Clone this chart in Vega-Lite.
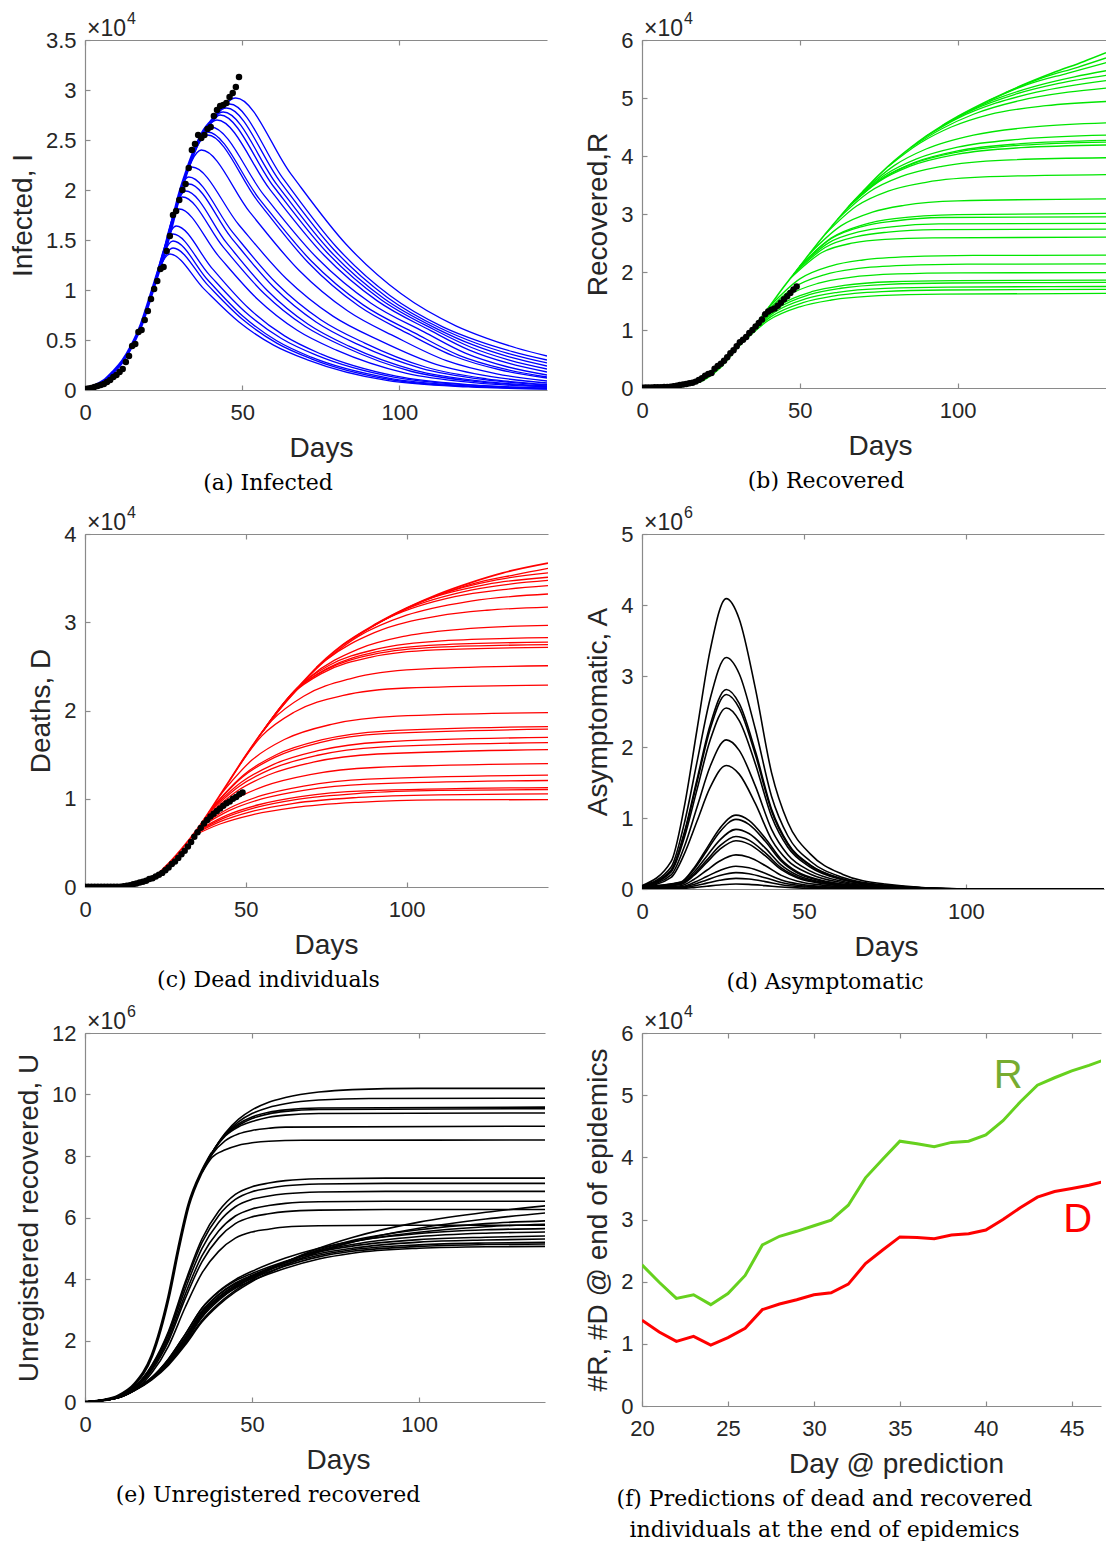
{
"$schema": "https://vega.github.io/schema/vega-lite/v6.json",
"background": "white",
"padding": {"left": 9, "top": 11, "right": 0, "bottom": 0},
"columns": 2,
"spacing": {"row": 144, "column": 94},
"bounds": "flush",
"config": {
 "view": {"stroke": null},
 "font": "Liberation Sans",
 "axis": {"grid": false, "domainColor": "#8a8a8a", "domainWidth": 1.2, "tickColor": "#8a8a8a", "tickWidth": 1.2, "tickSize": -5, "labelFont": "Liberation Sans", "labelFontSize": 22, "labelColor": "#262626", "titleFont": "Liberation Sans", "titleFontSize": 28, "titleFontWeight": "normal", "titleColor": "#262626"},
 "axisX": {"labelPadding": 17, "labelFlush": false},
 "axisY": {"labelPadding": 14, "titlePadding": 8},
 "title": {"font": "DejaVu Serif", "fontSize": 22, "fontWeight": "normal", "color": "#000000", "lineHeight": 31}
},
"datasets": {
 "one": [{}],
 "aTrunk": [{"x":0,"y":0.01},{"x":3,"y":0.04},{"x":6,"y":0.09},{"x":9,"y":0.18},{"x":12,"y":0.29},{"x":15,"y":0.45},{"x":18,"y":0.66},{"x":20,"y":0.85},{"x":22,"y":1.05},{"x":24,"y":1.25},{"x":26,"y":1.46},{"x":28,"y":1.7},{"x":30,"y":1.95},{"x":32,"y":2.15},{"x":34,"y":2.33},{"x":36,"y":2.48},{"x":38,"y":2.6},{"x":40,"y":2.68},{"x":42,"y":2.75}],
 "aObs": [{"x":0,"y":0.01},{"x":1,"y":0.015},{"x":2,"y":0.02},{"x":3,"y":0.03},{"x":4,"y":0.04},{"x":5,"y":0.05},{"x":6,"y":0.06},{"x":7,"y":0.08},{"x":8,"y":0.1},{"x":9,"y":0.13},{"x":10,"y":0.15},{"x":11,"y":0.18},{"x":12,"y":0.21},{"x":13,"y":0.28},{"x":14,"y":0.34},{"x":15,"y":0.44},{"x":16,"y":0.46},{"x":17,"y":0.58},{"x":18,"y":0.6},{"x":19,"y":0.7},{"x":20,"y":0.79},{"x":21,"y":0.91},{"x":22,"y":1.01},{"x":23,"y":1.09},{"x":24,"y":1.21},{"x":25,"y":1.23},{"x":26,"y":1.39},{"x":27,"y":1.54},{"x":28,"y":1.75},{"x":29,"y":1.79},{"x":30,"y":1.9},{"x":31,"y":2.0},{"x":32,"y":2.06},{"x":33,"y":2.22},{"x":34,"y":2.4},{"x":35,"y":2.46},{"x":36,"y":2.55},{"x":37,"y":2.52},{"x":38,"y":2.55},{"x":39,"y":2.61},{"x":40,"y":2.63},{"x":41,"y":2.74},{"x":42,"y":2.8},{"x":43,"y":2.84},{"x":44,"y":2.85},{"x":45,"y":2.87},{"x":46,"y":2.93},{"x":47,"y":2.97},{"x":48,"y":3.03},{"x":49,"y":3.13}],
 "aLines": [
{"c":0,"x":21,"y":0.95},{"c":0,"x":27,"y":1.36},{"c":0,"x":38,"y":1.006},{"c":0,"x":49,"y":0.68},{"c":0,"x":60,"y":0.449},{"c":0,"x":71,"y":0.299},{"c":0,"x":96,"y":0.096},{"c":0,"x":122,"y":0.031},{"c":0,"x":147,"y":0.01},
{"c":1,"x":22,"y":1.05},{"c":1,"x":28,"y":1.42},{"c":1,"x":39,"y":1.051},{"c":1,"x":50,"y":0.71},{"c":1,"x":61,"y":0.469},{"c":1,"x":72,"y":0.312},{"c":1,"x":97,"y":0.105},{"c":1,"x":122,"y":0.036},{"c":1,"x":147,"y":0.012},
{"c":2,"x":22,"y":1.05},{"c":2,"x":28,"y":1.49},{"c":2,"x":39,"y":1.103},{"c":2,"x":50,"y":0.745},{"c":2,"x":61,"y":0.492},{"c":2,"x":72,"y":0.328},{"c":2,"x":97,"y":0.117},{"c":2,"x":122,"y":0.042},{"c":2,"x":147,"y":0.015},
{"c":3,"x":22,"y":1.05},{"c":3,"x":28,"y":1.56},{"c":3,"x":39.5,"y":1.154},{"c":3,"x":51,"y":0.78},{"c":3,"x":62.5,"y":0.515},{"c":3,"x":74,"y":0.343},{"c":3,"x":98.3,"y":0.128},{"c":3,"x":122.7,"y":0.048},{"c":3,"x":147,"y":0.018},
{"c":4,"x":23,"y":1.15},{"c":4,"x":29,"y":1.64},{"c":4,"x":40.5,"y":1.214},{"c":4,"x":52,"y":0.82},{"c":4,"x":63.5,"y":0.541},{"c":4,"x":75,"y":0.361},{"c":4,"x":99,"y":0.138},{"c":4,"x":123,"y":0.052},{"c":4,"x":147,"y":0.02},
{"c":5,"x":24,"y":1.25},{"c":5,"x":30,"y":1.81},{"c":5,"x":42.5,"y":1.339},{"c":5,"x":55,"y":0.905},{"c":5,"x":67.5,"y":0.597},{"c":5,"x":80,"y":0.398},{"c":5,"x":102,"y":0.168},{"c":5,"x":124.5,"y":0.071},{"c":5,"x":147,"y":0.03},
{"c":6,"x":25,"y":1.35},{"c":6,"x":31,"y":1.93},{"c":6,"x":44,"y":1.428},{"c":6,"x":57,"y":0.965},{"c":6,"x":70,"y":0.637},{"c":6,"x":83,"y":0.425},{"c":6,"x":104,"y":0.185},{"c":6,"x":125.5,"y":0.081},{"c":6,"x":147,"y":0.035},
{"c":7,"x":26,"y":1.46},{"c":7,"x":32,"y":1.99},{"c":7,"x":45,"y":1.473},{"c":7,"x":58,"y":0.995},{"c":7,"x":71,"y":0.657},{"c":7,"x":84,"y":0.438},{"c":7,"x":105,"y":0.197},{"c":7,"x":126,"y":0.089},{"c":7,"x":147,"y":0.04},
{"c":8,"x":27,"y":1.58},{"c":8,"x":33,"y":2.06},{"c":8,"x":46.5,"y":1.524},{"c":8,"x":60,"y":1.03},{"c":8,"x":73.5,"y":0.68},{"c":8,"x":87,"y":0.453},{"c":8,"x":107,"y":0.217},{"c":8,"x":127,"y":0.104},{"c":8,"x":147,"y":0.05},
{"c":9,"x":27,"y":1.58},{"c":9,"x":33,"y":2.13},{"c":9,"x":47,"y":1.576},{"c":9,"x":61,"y":1.065},{"c":9,"x":75,"y":0.703},{"c":9,"x":89,"y":0.469},{"c":9,"x":108.3,"y":0.23},{"c":9,"x":127.7,"y":0.112},{"c":9,"x":147,"y":0.055},
{"c":10,"x":28,"y":1.7},{"c":10,"x":34,"y":2.23},{"c":10,"x":49,"y":1.65},{"c":10,"x":64,"y":1.115},{"c":10,"x":79,"y":0.736},{"c":10,"x":94,"y":0.491},{"c":10,"x":111.7,"y":0.256},{"c":10,"x":129.3,"y":0.134},{"c":10,"x":147,"y":0.07},
{"c":11,"x":31,"y":2.05},{"c":11,"x":37,"y":2.4},{"c":11,"x":52.5,"y":1.776},{"c":11,"x":68,"y":1.2},{"c":11,"x":83.5,"y":0.792},{"c":11,"x":99,"y":0.528},{"c":11,"x":115,"y":0.293},{"c":11,"x":131,"y":0.162},{"c":11,"x":147,"y":0.09},
{"c":12,"x":33,"y":2.24},{"c":12,"x":39,"y":2.55},{"c":12,"x":55,"y":1.887},{"c":12,"x":71,"y":1.275},{"c":12,"x":87,"y":0.842},{"c":12,"x":103,"y":0.561},{"c":12,"x":117.7,"y":0.335},{"c":12,"x":132.3,"y":0.2},{"c":12,"x":147,"y":0.12},
{"c":13,"x":33,"y":2.24},{"c":13,"x":39,"y":2.58},{"c":13,"x":55.5,"y":1.909},{"c":13,"x":72,"y":1.29},{"c":13,"x":88.5,"y":0.851},{"c":13,"x":105,"y":0.568},{"c":13,"x":119,"y":0.347},{"c":13,"x":133,"y":0.213},{"c":13,"x":147,"y":0.13},
{"c":14,"x":34,"y":2.33},{"c":14,"x":40,"y":2.63},{"c":14,"x":57,"y":1.946},{"c":14,"x":74,"y":1.315},{"c":14,"x":91,"y":0.868},{"c":14,"x":108,"y":0.579},{"c":14,"x":121,"y":0.369},{"c":14,"x":134,"y":0.235},{"c":14,"x":147,"y":0.15},
{"c":15,"x":36,"y":2.48},{"c":15,"x":42,"y":2.7},{"c":15,"x":59,"y":1.998},{"c":15,"x":76,"y":1.35},{"c":15,"x":93,"y":0.891},{"c":15,"x":110,"y":0.594},{"c":15,"x":122.3,"y":0.399},{"c":15,"x":134.7,"y":0.268},{"c":15,"x":147,"y":0.18},
{"c":16,"x":37,"y":2.54},{"c":16,"x":43,"y":2.75},{"c":16,"x":60,"y":2.035},{"c":16,"x":77,"y":1.375},{"c":16,"x":94,"y":0.908},{"c":16,"x":111,"y":0.605},{"c":16,"x":123,"y":0.425},{"c":16,"x":135,"y":0.299},{"c":16,"x":147,"y":0.21},
{"c":17,"x":38,"y":2.6},{"c":17,"x":44,"y":2.78},{"c":17,"x":61,"y":2.057},{"c":17,"x":78,"y":1.39},{"c":17,"x":95,"y":0.917},{"c":17,"x":112,"y":0.612},{"c":17,"x":123.7,"y":0.448},{"c":17,"x":135.3,"y":0.328},{"c":17,"x":147,"y":0.24},
{"c":18,"x":39,"y":2.64},{"c":18,"x":45,"y":2.82},{"c":18,"x":62,"y":2.087},{"c":18,"x":79,"y":1.41},{"c":18,"x":96,"y":0.931},{"c":18,"x":113,"y":0.62},{"c":18,"x":124.3,"y":0.47},{"c":18,"x":135.7,"y":0.356},{"c":18,"x":147,"y":0.27},
{"c":19,"x":40,"y":2.68},{"c":19,"x":46,"y":2.86},{"c":19,"x":63,"y":2.116},{"c":19,"x":80,"y":1.43},{"c":19,"x":97,"y":0.944},{"c":19,"x":114,"y":0.629},{"c":19,"x":125,"y":0.491},{"c":19,"x":136,"y":0.384},{"c":19,"x":147,"y":0.3},
{"c":20,"x":42,"y":2.75},{"c":20,"x":48,"y":2.92},{"c":20,"x":65.5,"y":2.161},{"c":20,"x":83,"y":1.46},{"c":20,"x":100.5,"y":0.964},{"c":20,"x":118,"y":0.642},{"c":20,"x":127.7,"y":0.519},{"c":20,"x":137.3,"y":0.42},{"c":20,"x":147,"y":0.34}],
 "bTrunk": [{"x":0,"y":0},{"x":5,"y":0.002},{"x":10,"y":0.015},{"x":15,"y":0.05},{"x":20,"y":0.15},{"x":25,"y":0.36},{"x":30,"y":0.68},{"x":35,"y":1.02},{"x":40,"y":1.38},{"x":45,"y":1.75},{"x":50,"y":2.1},{"x":55,"y":2.45},{"x":60,"y":2.78},{"x":65,"y":3.1},{"x":70,"y":3.39},{"x":75,"y":3.67},{"x":80,"y":3.92},{"x":85,"y":4.14},{"x":90,"y":4.34},{"x":95,"y":4.52},{"x":100,"y":4.68},{"x":110,"y":4.96},{"x":120,"y":5.21},{"x":130,"y":5.43},{"x":140,"y":5.63},{"x":147,"y":5.78}],
 "bObs": [{"x":0,"y":0.005},{"x":1,"y":0.007},{"x":2,"y":0.008},{"x":3,"y":0.01},{"x":4,"y":0.012},{"x":5,"y":0.013},{"x":6,"y":0.015},{"x":7,"y":0.016},{"x":8,"y":0.018},{"x":9,"y":0.022},{"x":10,"y":0.03},{"x":11,"y":0.04},{"x":12,"y":0.05},{"x":13,"y":0.06},{"x":14,"y":0.07},{"x":15,"y":0.08},{"x":16,"y":0.09},{"x":17,"y":0.11},{"x":18,"y":0.14},{"x":19,"y":0.17},{"x":20,"y":0.21},{"x":21,"y":0.24},{"x":22,"y":0.26},{"x":23,"y":0.33},{"x":24,"y":0.38},{"x":25,"y":0.42},{"x":26,"y":0.47},{"x":27,"y":0.53},{"x":28,"y":0.6},{"x":29,"y":0.65},{"x":30,"y":0.72},{"x":31,"y":0.79},{"x":32,"y":0.83},{"x":33,"y":0.88},{"x":34,"y":0.95},{"x":35,"y":1.0},{"x":36,"y":1.06},{"x":37,"y":1.12},{"x":38,"y":1.18},{"x":39,"y":1.27},{"x":40,"y":1.32},{"x":41,"y":1.35},{"x":42,"y":1.37},{"x":43,"y":1.42},{"x":44,"y":1.47},{"x":45,"y":1.53},{"x":46,"y":1.58},{"x":47,"y":1.64},{"x":48,"y":1.7},{"x":49,"y":1.75}],
 "bLines": [
{"c":1,"x":30,"y":0.68},{"c":1,"x":40,"y":1.163},{"c":1,"x":50,"y":1.4},{"c":1,"x":60,"y":1.517},{"c":1,"x":75,"y":1.591},{"c":1,"x":95,"y":1.62},{"c":1,"x":147,"y":1.63},
{"c":2,"x":31,"y":0.75},{"c":2,"x":41,"y":1.235},{"c":2,"x":51,"y":1.472},{"c":2,"x":61,"y":1.589},{"c":2,"x":76,"y":1.662},{"c":2,"x":96,"y":1.69},{"c":2,"x":147,"y":1.7},
{"c":3,"x":32,"y":0.82},{"c":3,"x":42,"y":1.306},{"c":3,"x":52,"y":1.539},{"c":3,"x":62,"y":1.65},{"c":3,"x":77,"y":1.717},{"c":3,"x":97,"y":1.74},{"c":3,"x":147,"y":1.75},
{"c":4,"x":33,"y":0.88},{"c":4,"x":43,"y":1.374},{"c":4,"x":53,"y":1.608},{"c":4,"x":63,"y":1.72},{"c":4,"x":78,"y":1.787},{"c":4,"x":98,"y":1.81},{"c":4,"x":147,"y":1.82},
{"c":5,"x":34,"y":0.95},{"c":5,"x":44,"y":1.439},{"c":5,"x":54,"y":1.664},{"c":5,"x":64,"y":1.769},{"c":5,"x":79,"y":1.832},{"c":5,"x":99,"y":1.85},{"c":5,"x":147,"y":1.86},
{"c":6,"x":36,"y":1.09},{"c":6,"x":46,"y":1.586},{"c":6,"x":56,"y":1.808},{"c":6,"x":66,"y":1.908},{"c":6,"x":81,"y":1.966},{"c":6,"x":101,"y":1.985},{"c":6,"x":147,"y":1.99},
{"c":7,"x":38,"y":1.23},{"c":7,"x":48,"y":1.731},{"c":7,"x":58,"y":1.956},{"c":7,"x":68,"y":2.057},{"c":7,"x":83,"y":2.115},{"c":7,"x":103,"y":2.135},{"c":7,"x":147,"y":2.14},
{"c":8,"x":40,"y":1.38},{"c":8,"x":50,"y":1.881},{"c":8,"x":60,"y":2.106},{"c":8,"x":70,"y":2.207},{"c":8,"x":85,"y":2.265},{"c":8,"x":105,"y":2.285},{"c":8,"x":147,"y":2.29},
{"c":9,"x":47,"y":1.89},{"c":9,"x":57,"y":2.336},{"c":9,"x":67,"y":2.502},{"c":9,"x":77,"y":2.564},{"c":9,"x":92,"y":2.59},{"c":9,"x":147,"y":2.6},
{"c":10,"x":48,"y":1.96},{"c":10,"x":58,"y":2.423},{"c":10,"x":68,"y":2.611},{"c":10,"x":78,"y":2.688},{"c":10,"x":93,"y":2.73},{"c":10,"x":147,"y":2.74},
{"c":11,"x":49,"y":2.03},{"c":11,"x":59,"y":2.498},{"c":11,"x":69,"y":2.695},{"c":11,"x":79,"y":2.779},{"c":11,"x":94,"y":2.83},{"c":11,"x":147,"y":2.84},
{"c":12,"x":50,"y":2.1},{"c":12,"x":60,"y":2.578},{"c":12,"x":70,"y":2.788},{"c":12,"x":80,"y":2.879},{"c":12,"x":95,"y":2.94},{"c":12,"x":147,"y":2.95},
{"c":13,"x":50,"y":2.1},{"c":13,"x":60,"y":2.589},{"c":13,"x":70,"y":2.814},{"c":13,"x":80,"y":2.919},{"c":13,"x":100,"y":2.99},{"c":13,"x":147,"y":3.01},
{"c":14,"x":53,"y":2.31},{"c":14,"x":63,"y":2.795},{"c":14,"x":73,"y":3.032},{"c":14,"x":83,"y":3.149},{"c":14,"x":100,"y":3.227},{"c":14,"x":147,"y":3.26},
{"c":15,"x":58,"y":2.65},{"c":15,"x":68,"y":3.137},{"c":15,"x":78,"y":3.395},{"c":15,"x":90,"y":3.547},{"c":15,"x":110,"y":3.643},{"c":15,"x":147,"y":3.68},
{"c":16,"x":62,"y":2.91},{"c":16,"x":72,"y":3.38},{"c":16,"x":82,"y":3.643},{"c":16,"x":95,"y":3.822},{"c":16,"x":115,"y":3.93},{"c":16,"x":147,"y":3.97},
{"c":17,"x":65,"y":3.1},{"c":17,"x":75,"y":3.558},{"c":17,"x":85,"y":3.825},{"c":17,"x":100,"y":4.032},{"c":17,"x":120,"y":4.143},{"c":17,"x":147,"y":4.19},
{"c":18,"x":65.5,"y":3.13},{"c":18,"x":75.5,"y":3.588},{"c":18,"x":85.5,"y":3.859},{"c":18,"x":100,"y":4.067},{"c":18,"x":120,"y":4.186},{"c":18,"x":147,"y":4.24},
{"c":19,"x":66,"y":3.16},{"c":19,"x":76,"y":3.612},{"c":19,"x":86,"y":3.882},{"c":19,"x":100,"y":4.087},{"c":19,"x":120,"y":4.212},{"c":19,"x":147,"y":4.27},
{"c":20,"x":67,"y":3.22},{"c":20,"x":77,"y":3.677},{"c":20,"x":87,"y":3.951},{"c":20,"x":100,"y":4.153},{"c":20,"x":120,"y":4.291},{"c":20,"x":147,"y":4.36},
{"c":21,"x":70,"y":3.39},{"c":21,"x":80,"y":3.839},{"c":21,"x":90,"y":4.121},{"c":21,"x":105,"y":4.36},{"c":21,"x":125,"y":4.506},{"c":21,"x":147,"y":4.57},
{"c":22,"x":78,"y":3.82},{"c":22,"x":88,"y":4.22},{"c":22,"x":98,"y":4.5},{"c":22,"x":110,"y":4.714},{"c":22,"x":128,"y":4.867},{"c":22,"x":147,"y":4.94},
{"c":23,"x":85,"y":4.14},{"c":23,"x":95,"y":4.47},{"c":23,"x":105,"y":4.72},{"c":23,"x":120,"y":4.96},{"c":23,"x":135,"y":5.1},{"c":23,"x":147,"y":5.17},
{"c":24,"x":90,"y":4.34},{"c":24,"x":100,"y":4.65},{"c":24,"x":112,"y":4.91},{"c":24,"x":125,"y":5.1},{"c":24,"x":147,"y":5.3},
{"c":25,"x":95,"y":4.52},{"c":25,"x":105,"y":4.8},{"c":25,"x":118,"y":5.06},{"c":25,"x":132,"y":5.251},{"c":25,"x":147,"y":5.39},
{"c":26,"x":100,"y":4.68},{"c":26,"x":112,"y":4.98},{"c":26,"x":125,"y":5.21},{"c":26,"x":137,"y":5.365},{"c":26,"x":147,"y":5.47},
{"c":27,"x":110,"y":4.96},{"c":27,"x":122,"y":5.23},{"c":27,"x":135,"y":5.43},{"c":27,"x":147,"y":5.61},
{"c":28,"x":115,"y":5.09},{"c":28,"x":127,"y":5.35},{"c":28,"x":138,"y":5.53},{"c":28,"x":147,"y":5.69}],
 "cTrunk": [{"x":0,"y":0},{"x":10,"y":0.002},{"x":15,"y":0.02},{"x":20,"y":0.07},{"x":25,"y":0.23},{"x":30,"y":0.43},{"x":35,"y":0.66},{"x":40,"y":0.93},{"x":45,"y":1.21},{"x":50,"y":1.49},{"x":55,"y":1.75},{"x":60,"y":1.99},{"x":65,"y":2.21},{"x":70,"y":2.41},{"x":75,"y":2.59},{"x":80,"y":2.74},{"x":90,"y":2.97},{"x":100,"y":3.16},{"x":110,"y":3.32},{"x":120,"y":3.45},{"x":130,"y":3.56},{"x":144,"y":3.67}],
 "cObs": [{"x":0,"y":0.003},{"x":1,"y":0.003},{"x":2,"y":0.003},{"x":3,"y":0.003},{"x":4,"y":0.003},{"x":5,"y":0.003},{"x":6,"y":0.003},{"x":7,"y":0.003},{"x":8,"y":0.003},{"x":9,"y":0.003},{"x":10,"y":0.003},{"x":11,"y":0.003},{"x":12,"y":0.01},{"x":13,"y":0.015},{"x":14,"y":0.02},{"x":15,"y":0.03},{"x":16,"y":0.04},{"x":17,"y":0.05},{"x":18,"y":0.06},{"x":19,"y":0.07},{"x":20,"y":0.09},{"x":21,"y":0.1},{"x":22,"y":0.12},{"x":23,"y":0.14},{"x":24,"y":0.16},{"x":25,"y":0.19},{"x":26,"y":0.22},{"x":27,"y":0.26},{"x":28,"y":0.29},{"x":29,"y":0.33},{"x":30,"y":0.37},{"x":31,"y":0.41},{"x":32,"y":0.46},{"x":33,"y":0.51},{"x":34,"y":0.57},{"x":35,"y":0.62},{"x":36,"y":0.67},{"x":37,"y":0.72},{"x":38,"y":0.76},{"x":39,"y":0.8},{"x":40,"y":0.83},{"x":41,"y":0.86},{"x":42,"y":0.89},{"x":43,"y":0.92},{"x":44,"y":0.95},{"x":45,"y":0.97},{"x":46,"y":1.0},{"x":47,"y":1.02},{"x":48,"y":1.05},{"x":49,"y":1.07}],
 "cLines": [
{"c":1,"x":33,"y":0.57},{"c":1,"x":42,"y":0.714},{"c":1,"x":52,"y":0.818},{"c":1,"x":65,"y":0.899},{"c":1,"x":85,"y":0.96},{"c":1,"x":110,"y":0.987},{"c":1,"x":144,"y":0.99},
{"c":2,"x":33.5,"y":0.59},{"c":2,"x":42,"y":0.74},{"c":2,"x":52,"y":0.857},{"c":2,"x":65,"y":0.948},{"c":2,"x":85,"y":1.015},{"c":2,"x":110,"y":1.045},{"c":2,"x":144,"y":1.055},
{"c":3,"x":34,"y":0.61},{"c":3,"x":43,"y":0.778},{"c":3,"x":53,"y":0.899},{"c":3,"x":66,"y":0.993},{"c":3,"x":86,"y":1.063},{"c":3,"x":110,"y":1.095},{"c":3,"x":144,"y":1.105},
{"c":4,"x":34.5,"y":0.63},{"c":4,"x":44,"y":0.812},{"c":4,"x":54,"y":0.932},{"c":4,"x":67,"y":1.024},{"c":4,"x":87,"y":1.089},{"c":4,"x":144,"y":1.127},
{"c":5,"x":35,"y":0.66},{"c":5,"x":45,"y":0.868},{"c":5,"x":55,"y":0.998},{"c":5,"x":68,"y":1.096},{"c":5,"x":88,"y":1.166},{"c":5,"x":144,"y":1.207},
{"c":6,"x":35.5,"y":0.68},{"c":6,"x":45,"y":0.895},{"c":6,"x":55,"y":1.037},{"c":6,"x":68,"y":1.144},{"c":6,"x":88,"y":1.222},{"c":6,"x":144,"y":1.267},
{"c":7,"x":36,"y":0.71},{"c":7,"x":46,"y":0.982},{"c":7,"x":56,"y":1.146},{"c":7,"x":70,"y":1.274},{"c":7,"x":90,"y":1.354},{"c":7,"x":144,"y":1.397},
{"c":8,"x":37,"y":0.77},{"c":8,"x":47,"y":1.08},{"c":8,"x":57,"y":1.269},{"c":8,"x":71,"y":1.415},{"c":8,"x":91,"y":1.507},{"c":8,"x":144,"y":1.556},
{"c":9,"x":38,"y":0.82},{"c":9,"x":48,"y":1.142},{"c":9,"x":58,"y":1.338},{"c":9,"x":72,"y":1.49},{"c":9,"x":92,"y":1.585},{"c":9,"x":144,"y":1.636},
{"c":10,"x":38.5,"y":0.85},{"c":10,"x":48.5,"y":1.184},{"c":10,"x":58.5,"y":1.387},{"c":10,"x":72.5,"y":1.544},{"c":10,"x":92.5,"y":1.643},{"c":10,"x":144,"y":1.696},
{"c":11,"x":39,"y":0.87},{"c":11,"x":49,"y":1.246},{"c":11,"x":59,"y":1.469},{"c":11,"x":73,"y":1.636},{"c":11,"x":93,"y":1.737},{"c":11,"x":144,"y":1.788},
{"c":12,"x":39.5,"y":0.9},{"c":12,"x":49.5,"y":1.276},{"c":12,"x":59.5,"y":1.499},{"c":12,"x":73.5,"y":1.666},{"c":12,"x":93.5,"y":1.767},{"c":12,"x":144,"y":1.818},
{"c":13,"x":42,"y":1.04},{"c":13,"x":52,"y":1.441},{"c":13,"x":62,"y":1.671},{"c":13,"x":77,"y":1.846},{"c":13,"x":97,"y":1.936},{"c":13,"x":144,"y":1.977},
{"c":14,"x":45,"y":1.21},{"c":14,"x":55,"y":1.712},{"c":14,"x":65,"y":1.98},{"c":14,"x":80,"y":2.169},{"c":14,"x":100,"y":2.255},{"c":14,"x":144,"y":2.288},
{"c":15,"x":48,"y":1.38},{"c":15,"x":58,"y":1.883},{"c":15,"x":68,"y":2.162},{"c":15,"x":83,"y":2.365},{"c":15,"x":103,"y":2.466},{"c":15,"x":144,"y":2.507},
{"c":16,"x":54,"y":1.7},{"c":16,"x":64,"y":2.174},{"c":16,"x":74,"y":2.427},{"c":16,"x":89,"y":2.606},{"c":16,"x":109,"y":2.687},{"c":16,"x":144,"y":2.716},
{"c":17,"x":55,"y":1.75},{"c":17,"x":65,"y":2.215},{"c":17,"x":75,"y":2.463},{"c":17,"x":90,"y":2.638},{"c":17,"x":110,"y":2.718},{"c":17,"x":144,"y":2.746},
{"c":18,"x":55.5,"y":1.77},{"c":18,"x":65.5,"y":2.23},{"c":18,"x":75.5,"y":2.48},{"c":18,"x":90.5,"y":2.663},{"c":18,"x":110,"y":2.743},{"c":18,"x":144,"y":2.775},
{"c":19,"x":56,"y":1.8},{"c":19,"x":66,"y":2.258},{"c":19,"x":76,"y":2.513},{"c":19,"x":91,"y":2.698},{"c":19,"x":111,"y":2.79},{"c":19,"x":144,"y":2.825},
{"c":20,"x":60,"y":1.99},{"c":20,"x":70,"y":2.379},{"c":20,"x":85,"y":2.696},{"c":20,"x":100,"y":2.846},{"c":20,"x":120,"y":2.93},{"c":20,"x":144,"y":2.965},
{"c":21,"x":65,"y":2.21},{"c":21,"x":75,"y":2.571},{"c":21,"x":90,"y":2.882},{"c":21,"x":110,"y":3.072},{"c":21,"x":125,"y":3.136},{"c":21,"x":144,"y":3.172},
{"c":22,"x":72,"y":2.49},{"c":22,"x":85,"y":2.84},{"c":22,"x":100,"y":3.08},{"c":22,"x":120,"y":3.24},{"c":22,"x":144,"y":3.32},
{"c":23,"x":80,"y":2.74},{"c":23,"x":95,"y":3.06},{"c":23,"x":115,"y":3.29},{"c":23,"x":130,"y":3.37},{"c":23,"x":144,"y":3.415},
{"c":24,"x":85,"y":2.86},{"c":24,"x":100,"y":3.15},{"c":24,"x":120,"y":3.364},{"c":24,"x":144,"y":3.474},
{"c":25,"x":90,"y":2.97},{"c":25,"x":105,"y":3.24},{"c":25,"x":125,"y":3.43},{"c":25,"x":144,"y":3.51},
{"c":26,"x":95,"y":3.07},{"c":26,"x":110,"y":3.31},{"c":26,"x":128,"y":3.48},{"c":26,"x":144,"y":3.56},
{"c":27,"x":105,"y":3.24},{"c":27,"x":120,"y":3.43},{"c":27,"x":134,"y":3.54},{"c":27,"x":144,"y":3.61}],
 "dLines": [
{"c":1,"x":0,"y":0.049},{"c":1,"x":9,"y":0.389},{"c":1,"x":13,"y":1.145},{"c":1,"x":17,"y":2.25},{"c":1,"x":21,"y":3.354},{"c":1,"x":26,"y":4.09},{"c":1,"x":30,"y":3.804},{"c":1,"x":35,"y":2.822},{"c":1,"x":40,"y":1.636},{"c":1,"x":45,"y":0.941},{"c":1,"x":52,"y":0.491},{"c":1,"x":62,"y":0.205},{"c":1,"x":75,"y":0.07},{"c":1,"x":100,"y":0},{"c":1,"x":143,"y":0},
{"c":2,"x":0,"y":0.039},{"c":2,"x":9,"y":0.31},{"c":2,"x":13,"y":0.913},{"c":2,"x":17,"y":1.793},{"c":2,"x":21,"y":2.673},{"c":2,"x":26,"y":3.26},{"c":2,"x":30,"y":3.032},{"c":2,"x":35,"y":2.249},{"c":2,"x":40,"y":1.304},{"c":2,"x":45,"y":0.75},{"c":2,"x":52,"y":0.391},{"c":2,"x":62,"y":0.163},{"c":2,"x":75,"y":0.055},{"c":2,"x":100,"y":0},{"c":2,"x":143,"y":0},
{"c":3,"x":0,"y":0.034},{"c":3,"x":9,"y":0.267},{"c":3,"x":13,"y":0.787},{"c":3,"x":17,"y":1.546},{"c":3,"x":21,"y":2.304},{"c":3,"x":26,"y":2.81},{"c":3,"x":30,"y":2.613},{"c":3,"x":35,"y":1.939},{"c":3,"x":40,"y":1.124},{"c":3,"x":45,"y":0.646},{"c":3,"x":52,"y":0.337},{"c":3,"x":62,"y":0.141},{"c":3,"x":75,"y":0.048},{"c":3,"x":100,"y":0},{"c":3,"x":143,"y":0},
{"c":4,"x":0,"y":0.033},{"c":4,"x":9,"y":0.26},{"c":4,"x":13,"y":0.767},{"c":4,"x":17,"y":1.507},{"c":4,"x":21,"y":2.247},{"c":4,"x":26,"y":2.74},{"c":4,"x":30,"y":2.548},{"c":4,"x":35,"y":1.891},{"c":4,"x":40,"y":1.096},{"c":4,"x":45,"y":0.63},{"c":4,"x":52,"y":0.329},{"c":4,"x":62,"y":0.137},{"c":4,"x":75,"y":0.047},{"c":4,"x":100,"y":0},{"c":4,"x":143,"y":0},
{"c":5,"x":0,"y":0.031},{"c":5,"x":9,"y":0.242},{"c":5,"x":13,"y":0.714},{"c":5,"x":17,"y":1.403},{"c":5,"x":21,"y":2.091},{"c":5,"x":26,"y":2.55},{"c":5,"x":30,"y":2.372},{"c":5,"x":35,"y":1.76},{"c":5,"x":40,"y":1.02},{"c":5,"x":45,"y":0.587},{"c":5,"x":52,"y":0.306},{"c":5,"x":62,"y":0.128},{"c":5,"x":75,"y":0.043},{"c":5,"x":100,"y":0},{"c":5,"x":143,"y":0},
{"c":6,"x":0,"y":0.025},{"c":6,"x":9,"y":0.2},{"c":6,"x":13,"y":0.588},{"c":6,"x":17,"y":1.155},{"c":6,"x":21,"y":1.722},{"c":6,"x":26,"y":2.1},{"c":6,"x":30,"y":1.953},{"c":6,"x":35,"y":1.449},{"c":6,"x":40,"y":0.84},{"c":6,"x":45,"y":0.483},{"c":6,"x":52,"y":0.252},{"c":6,"x":62,"y":0.105},{"c":6,"x":75,"y":0.036},{"c":6,"x":100,"y":0},{"c":6,"x":143,"y":0},
{"c":7,"x":0,"y":0.021},{"c":7,"x":9,"y":0.165},{"c":7,"x":13,"y":0.487},{"c":7,"x":17,"y":0.957},{"c":7,"x":21,"y":1.427},{"c":7,"x":26,"y":1.74},{"c":7,"x":30,"y":1.618},{"c":7,"x":35,"y":1.201},{"c":7,"x":40,"y":0.696},{"c":7,"x":45,"y":0.4},{"c":7,"x":52,"y":0.209},{"c":7,"x":62,"y":0.087},{"c":7,"x":75,"y":0.03},{"c":7,"x":100,"y":0},{"c":7,"x":143,"y":0},
{"c":8,"x":0,"y":0.031},{"c":8,"x":12,"y":0.099},{"c":8,"x":16,"y":0.291},{"c":8,"x":20,"y":0.572},{"c":8,"x":24,"y":0.853},{"c":8,"x":29,"y":1.04},{"c":8,"x":33,"y":0.967},{"c":8,"x":38,"y":0.718},{"c":8,"x":43,"y":0.416},{"c":8,"x":48,"y":0.239},{"c":8,"x":55,"y":0.125},{"c":8,"x":65,"y":0.052},{"c":8,"x":78,"y":0.018},{"c":8,"x":100,"y":0},{"c":8,"x":143,"y":0},
{"c":9,"x":0,"y":0.029},{"c":9,"x":12,"y":0.093},{"c":9,"x":16,"y":0.274},{"c":9,"x":20,"y":0.539},{"c":9,"x":24,"y":0.804},{"c":9,"x":29,"y":0.98},{"c":9,"x":33,"y":0.911},{"c":9,"x":38,"y":0.676},{"c":9,"x":43,"y":0.392},{"c":9,"x":48,"y":0.225},{"c":9,"x":55,"y":0.118},{"c":9,"x":65,"y":0.049},{"c":9,"x":78,"y":0.017},{"c":9,"x":100,"y":0},{"c":9,"x":143,"y":0},
{"c":10,"x":0,"y":0.025},{"c":10,"x":12,"y":0.08},{"c":10,"x":16,"y":0.235},{"c":10,"x":20,"y":0.462},{"c":10,"x":24,"y":0.689},{"c":10,"x":29,"y":0.84},{"c":10,"x":33,"y":0.781},{"c":10,"x":38,"y":0.58},{"c":10,"x":43,"y":0.336},{"c":10,"x":48,"y":0.193},{"c":10,"x":55,"y":0.101},{"c":10,"x":65,"y":0.042},{"c":10,"x":78,"y":0.014},{"c":10,"x":100,"y":0},{"c":10,"x":143,"y":0},
{"c":11,"x":0,"y":0.022},{"c":11,"x":12,"y":0.07},{"c":11,"x":16,"y":0.207},{"c":11,"x":20,"y":0.407},{"c":11,"x":24,"y":0.607},{"c":11,"x":29,"y":0.74},{"c":11,"x":33,"y":0.688},{"c":11,"x":38,"y":0.511},{"c":11,"x":43,"y":0.296},{"c":11,"x":48,"y":0.17},{"c":11,"x":55,"y":0.089},{"c":11,"x":65,"y":0.037},{"c":11,"x":78,"y":0.013},{"c":11,"x":100,"y":0},{"c":11,"x":143,"y":0},
{"c":12,"x":0,"y":0.02},{"c":12,"x":12,"y":0.065},{"c":12,"x":16,"y":0.19},{"c":12,"x":20,"y":0.374},{"c":12,"x":24,"y":0.558},{"c":12,"x":29,"y":0.68},{"c":12,"x":33,"y":0.632},{"c":12,"x":38,"y":0.469},{"c":12,"x":43,"y":0.272},{"c":12,"x":48,"y":0.156},{"c":12,"x":55,"y":0.082},{"c":12,"x":65,"y":0.034},{"c":12,"x":78,"y":0.012},{"c":12,"x":100,"y":0},{"c":12,"x":143,"y":0},
{"c":13,"x":0,"y":0.014},{"c":13,"x":12,"y":0.046},{"c":13,"x":16,"y":0.134},{"c":13,"x":20,"y":0.264},{"c":13,"x":24,"y":0.394},{"c":13,"x":29,"y":0.48},{"c":13,"x":33,"y":0.446},{"c":13,"x":38,"y":0.331},{"c":13,"x":43,"y":0.192},{"c":13,"x":48,"y":0.11},{"c":13,"x":55,"y":0.058},{"c":13,"x":65,"y":0.024},{"c":13,"x":78,"y":0.008},{"c":13,"x":100,"y":0},{"c":13,"x":143,"y":0},
{"c":14,"x":0,"y":0.01},{"c":14,"x":12,"y":0.03},{"c":14,"x":16,"y":0.09},{"c":14,"x":20,"y":0.176},{"c":14,"x":24,"y":0.262},{"c":14,"x":29,"y":0.32},{"c":14,"x":33,"y":0.298},{"c":14,"x":38,"y":0.221},{"c":14,"x":43,"y":0.128},{"c":14,"x":48,"y":0.074},{"c":14,"x":55,"y":0.038},{"c":14,"x":65,"y":0.016},{"c":14,"x":78,"y":0.005},{"c":14,"x":100,"y":0},{"c":14,"x":143,"y":0},
{"c":15,"x":0,"y":0.007},{"c":15,"x":12,"y":0.022},{"c":15,"x":16,"y":0.064},{"c":15,"x":20,"y":0.127},{"c":15,"x":24,"y":0.189},{"c":15,"x":29,"y":0.23},{"c":15,"x":33,"y":0.214},{"c":15,"x":38,"y":0.159},{"c":15,"x":43,"y":0.092},{"c":15,"x":48,"y":0.053},{"c":15,"x":55,"y":0.028},{"c":15,"x":65,"y":0.012},{"c":15,"x":78,"y":0.004},{"c":15,"x":100,"y":0},{"c":15,"x":143,"y":0},
{"c":16,"x":0,"y":0.005},{"c":16,"x":12,"y":0.014},{"c":16,"x":16,"y":0.042},{"c":16,"x":20,"y":0.083},{"c":16,"x":24,"y":0.123},{"c":16,"x":29,"y":0.15},{"c":16,"x":33,"y":0.14},{"c":16,"x":38,"y":0.104},{"c":16,"x":43,"y":0.06},{"c":16,"x":48,"y":0.035},{"c":16,"x":55,"y":0.018},{"c":16,"x":65,"y":0.008},{"c":16,"x":78,"y":0.003},{"c":16,"x":100,"y":0},{"c":16,"x":143,"y":0},
{"c":17,"x":0,"y":0.002},{"c":17,"x":12,"y":0.007},{"c":17,"x":16,"y":0.02},{"c":17,"x":20,"y":0.039},{"c":17,"x":24,"y":0.057},{"c":17,"x":29,"y":0.07},{"c":17,"x":33,"y":0.065},{"c":17,"x":38,"y":0.048},{"c":17,"x":43,"y":0.028},{"c":17,"x":48,"y":0.016},{"c":17,"x":55,"y":0.008},{"c":17,"x":65,"y":0.004},{"c":17,"x":78,"y":0.001},{"c":17,"x":100,"y":0},{"c":17,"x":143,"y":0}],
 "eTrunk": [{"x":0,"y":0},{"x":5,"y":0.05},{"x":10,"y":0.2},{"x":15,"y":0.6},{"x":20,"y":1.5},{"x":25,"y":3.4},{"x":28,"y":5.0},{"x":31,"y":6.4},{"x":35,"y":7.5},{"x":38,"y":8.1}],
 "eLines": [
{"c":"A1","x":35,"y":7.5},{"c":"A1","x":38,"y":8.1},{"c":"A1","x":42,"y":8.75},{"c":"A1","x":46,"y":9.2},{"c":"A1","x":50,"y":9.5},{"c":"A1","x":55,"y":9.75},{"c":"A1","x":60,"y":9.9},{"c":"A1","x":70,"y":10.08},{"c":"A1","x":80,"y":10.16},{"c":"A1","x":100,"y":10.2},{"c":"A1","x":138,"y":10.2},
{"c":"A2","x":35,"y":7.5},{"c":"A2","x":38,"y":8.1},{"c":"A2","x":42,"y":8.72},{"c":"A2","x":46,"y":9.12},{"c":"A2","x":50,"y":9.38},{"c":"A2","x":55,"y":9.58},{"c":"A2","x":60,"y":9.7},{"c":"A2","x":70,"y":9.82},{"c":"A2","x":85,"y":9.87},{"c":"A2","x":138,"y":9.88},
{"c":"A3","x":35,"y":7.5},{"c":"A3","x":38,"y":8.1},{"c":"A3","x":42,"y":8.7},{"c":"A3","x":46,"y":9.05},{"c":"A3","x":50,"y":9.27},{"c":"A3","x":55,"y":9.42},{"c":"A3","x":60,"y":9.5},{"c":"A3","x":70,"y":9.56},{"c":"A3","x":138,"y":9.59},
{"c":"A4","x":35,"y":7.5},{"c":"A4","x":38,"y":8.1},{"c":"A4","x":42,"y":8.68},{"c":"A4","x":46,"y":9.0},{"c":"A4","x":50,"y":9.22},{"c":"A4","x":55,"y":9.37},{"c":"A4","x":60,"y":9.45},{"c":"A4","x":70,"y":9.51},{"c":"A4","x":138,"y":9.54},
{"c":"A5","x":35,"y":7.5},{"c":"A5","x":38,"y":8.1},{"c":"A5","x":42,"y":8.65},{"c":"A5","x":46,"y":8.95},{"c":"A5","x":50,"y":9.12},{"c":"A5","x":55,"y":9.26},{"c":"A5","x":60,"y":9.33},{"c":"A5","x":70,"y":9.38},{"c":"A5","x":138,"y":9.4},
{"c":"A6","x":35,"y":7.5},{"c":"A6","x":38,"y":8.05},{"c":"A6","x":42,"y":8.5},{"c":"A6","x":46,"y":8.72},{"c":"A6","x":50,"y":8.83},{"c":"A6","x":55,"y":8.9},{"c":"A6","x":60,"y":8.94},{"c":"A6","x":138,"y":8.97},
{"c":"A7","x":35,"y":7.45},{"c":"A7","x":38,"y":7.95},{"c":"A7","x":42,"y":8.2},{"c":"A7","x":46,"y":8.35},{"c":"A7","x":50,"y":8.43},{"c":"A7","x":55,"y":8.48},{"c":"A7","x":65,"y":8.51},{"c":"A7","x":138,"y":8.52},
{"c":"B1","x":0,"y":0},{"c":"B1","x":10,"y":0.18},{"c":"B1","x":15,"y":0.51},{"c":"B1","x":20,"y":1.2},{"c":"B1","x":25,"y":2.3},{"c":"B1","x":30,"y":3.9},{"c":"B1","x":35,"y":5.3},{"c":"B1","x":40,"y":6.2},{"c":"B1","x":45,"y":6.75},{"c":"B1","x":50,"y":7.0},{"c":"B1","x":55,"y":7.12},{"c":"B1","x":60,"y":7.2},{"c":"B1","x":70,"y":7.26},{"c":"B1","x":90,"y":7.28},{"c":"B1","x":138,"y":7.28},
{"c":"B2","x":0,"y":0},{"c":"B2","x":10,"y":0.18},{"c":"B2","x":15,"y":0.5},{"c":"B2","x":20,"y":1.17},{"c":"B2","x":25,"y":2.25},{"c":"B2","x":30,"y":3.81},{"c":"B2","x":35,"y":5.18},{"c":"B2","x":40,"y":6.06},{"c":"B2","x":45,"y":6.59},{"c":"B2","x":50,"y":6.84},{"c":"B2","x":55,"y":6.95},{"c":"B2","x":60,"y":7.03},{"c":"B2","x":70,"y":7.09},{"c":"B2","x":90,"y":7.11},{"c":"B2","x":138,"y":7.11},
{"c":"B3","x":0,"y":0},{"c":"B3","x":10,"y":0.17},{"c":"B3","x":15,"y":0.48},{"c":"B3","x":20,"y":1.13},{"c":"B3","x":25,"y":2.16},{"c":"B3","x":30,"y":3.67},{"c":"B3","x":35,"y":4.99},{"c":"B3","x":40,"y":5.84},{"c":"B3","x":45,"y":6.35},{"c":"B3","x":50,"y":6.59},{"c":"B3","x":55,"y":6.7},{"c":"B3","x":60,"y":6.77},{"c":"B3","x":70,"y":6.83},{"c":"B3","x":90,"y":6.85},{"c":"B3","x":138,"y":6.85},
{"c":"B4","x":0,"y":0},{"c":"B4","x":10,"y":0.16},{"c":"B4","x":15,"y":0.46},{"c":"B4","x":20,"y":1.08},{"c":"B4","x":25,"y":2.06},{"c":"B4","x":30,"y":3.5},{"c":"B4","x":35,"y":4.75},{"c":"B4","x":40,"y":5.56},{"c":"B4","x":45,"y":6.05},{"c":"B4","x":50,"y":6.28},{"c":"B4","x":55,"y":6.39},{"c":"B4","x":60,"y":6.46},{"c":"B4","x":70,"y":6.51},{"c":"B4","x":90,"y":6.53},{"c":"B4","x":138,"y":6.53},
{"c":"B5","x":0,"y":0},{"c":"B5","x":10,"y":0.16},{"c":"B5","x":15,"y":0.44},{"c":"B5","x":20,"y":1.03},{"c":"B5","x":25,"y":1.98},{"c":"B5","x":30,"y":3.36},{"c":"B5","x":35,"y":4.56},{"c":"B5","x":40,"y":5.33},{"c":"B5","x":45,"y":5.8},{"c":"B5","x":50,"y":6.02},{"c":"B5","x":55,"y":6.12},{"c":"B5","x":60,"y":6.19},{"c":"B5","x":70,"y":6.24},{"c":"B5","x":90,"y":6.26},{"c":"B5","x":138,"y":6.26},
{"c":"B6","x":0,"y":0},{"c":"B6","x":10,"y":0.14},{"c":"B6","x":15,"y":0.4},{"c":"B6","x":20,"y":0.95},{"c":"B6","x":25,"y":1.82},{"c":"B6","x":30,"y":3.08},{"c":"B6","x":35,"y":4.19},{"c":"B6","x":40,"y":4.9},{"c":"B6","x":45,"y":5.33},{"c":"B6","x":50,"y":5.53},{"c":"B6","x":55,"y":5.62},{"c":"B6","x":60,"y":5.69},{"c":"B6","x":70,"y":5.73},{"c":"B6","x":90,"y":5.75},{"c":"B6","x":138,"y":5.75},
{"c":"C1","x":0,"y":0},{"c":"C1","x":10,"y":0.15},{"c":"C1","x":15,"y":0.4},{"c":"C1","x":20,"y":0.75},{"c":"C1","x":25,"y":1.25},{"c":"C1","x":30,"y":1.95},{"c":"C1","x":35,"y":2.8},{"c":"C1","x":40,"y":3.35},{"c":"C1","x":45,"y":3.7},{"c":"C1","x":50,"y":3.95},{"c":"C1","x":60,"y":4.35},{"c":"C1","x":70,"y":4.65},{"c":"C1","x":80,"y":4.84},{"c":"C1","x":100,"y":5.0},{"c":"C1","x":120,"y":5.05},{"c":"C1","x":138,"y":5.06},
{"c":"C2","x":0,"y":0},{"c":"C2","x":10,"y":0.15},{"c":"C2","x":15,"y":0.4},{"c":"C2","x":20,"y":0.76},{"c":"C2","x":25,"y":1.3},{"c":"C2","x":30,"y":2.05},{"c":"C2","x":35,"y":2.9},{"c":"C2","x":40,"y":3.42},{"c":"C2","x":45,"y":3.78},{"c":"C2","x":50,"y":4.02},{"c":"C2","x":60,"y":4.42},{"c":"C2","x":70,"y":4.72},{"c":"C2","x":80,"y":4.9},{"c":"C2","x":100,"y":5.06},{"c":"C2","x":120,"y":5.12},{"c":"C2","x":138,"y":5.14},
{"c":"C3","x":0,"y":0},{"c":"C3","x":10,"y":0.15},{"c":"C3","x":15,"y":0.41},{"c":"C3","x":20,"y":0.78},{"c":"C3","x":25,"y":1.35},{"c":"C3","x":30,"y":2.1},{"c":"C3","x":35,"y":2.95},{"c":"C3","x":40,"y":3.48},{"c":"C3","x":45,"y":3.84},{"c":"C3","x":50,"y":4.08},{"c":"C3","x":60,"y":4.48},{"c":"C3","x":70,"y":4.77},{"c":"C3","x":80,"y":4.95},{"c":"C3","x":100,"y":5.11},{"c":"C3","x":120,"y":5.17},{"c":"C3","x":138,"y":5.19},
{"c":"C4","x":0,"y":0},{"c":"C4","x":10,"y":0.15},{"c":"C4","x":15,"y":0.41},{"c":"C4","x":20,"y":0.78},{"c":"C4","x":25,"y":1.35},{"c":"C4","x":30,"y":2.1},{"c":"C4","x":35,"y":2.95},{"c":"C4","x":40,"y":3.5},{"c":"C4","x":45,"y":3.87},{"c":"C4","x":50,"y":4.12},{"c":"C4","x":60,"y":4.52},{"c":"C4","x":70,"y":4.82},{"c":"C4","x":80,"y":5.0},{"c":"C4","x":100,"y":5.2},{"c":"C4","x":120,"y":5.27},{"c":"C4","x":138,"y":5.3},
{"c":"C5","x":0,"y":0},{"c":"C5","x":10,"y":0.16},{"c":"C5","x":15,"y":0.42},{"c":"C5","x":20,"y":0.8},{"c":"C5","x":25,"y":1.4},{"c":"C5","x":30,"y":2.2},{"c":"C5","x":35,"y":3.05},{"c":"C5","x":40,"y":3.58},{"c":"C5","x":45,"y":3.94},{"c":"C5","x":50,"y":4.18},{"c":"C5","x":60,"y":4.58},{"c":"C5","x":70,"y":4.88},{"c":"C5","x":80,"y":5.07},{"c":"C5","x":100,"y":5.28},{"c":"C5","x":120,"y":5.36},{"c":"C5","x":138,"y":5.4},
{"c":"C6","x":0,"y":0},{"c":"C6","x":10,"y":0.15},{"c":"C6","x":15,"y":0.4},{"c":"C6","x":20,"y":0.77},{"c":"C6","x":25,"y":1.3},{"c":"C6","x":30,"y":2.05},{"c":"C6","x":35,"y":2.85},{"c":"C6","x":40,"y":3.4},{"c":"C6","x":45,"y":3.8},{"c":"C6","x":50,"y":4.1},{"c":"C6","x":60,"y":4.55},{"c":"C6","x":70,"y":4.9},{"c":"C6","x":80,"y":5.12},{"c":"C6","x":100,"y":5.38},{"c":"C6","x":120,"y":5.49},{"c":"C6","x":138,"y":5.53},
{"c":"C7","x":0,"y":0},{"c":"C7","x":10,"y":0.16},{"c":"C7","x":15,"y":0.42},{"c":"C7","x":20,"y":0.8},{"c":"C7","x":25,"y":1.4},{"c":"C7","x":30,"y":2.2},{"c":"C7","x":35,"y":3.05},{"c":"C7","x":40,"y":3.6},{"c":"C7","x":45,"y":3.98},{"c":"C7","x":50,"y":4.25},{"c":"C7","x":60,"y":4.68},{"c":"C7","x":70,"y":5.0},{"c":"C7","x":80,"y":5.22},{"c":"C7","x":100,"y":5.48},{"c":"C7","x":120,"y":5.6},{"c":"C7","x":138,"y":5.64},
{"c":"C8","x":0,"y":0},{"c":"C8","x":10,"y":0.15},{"c":"C8","x":15,"y":0.4},{"c":"C8","x":20,"y":0.76},{"c":"C8","x":25,"y":1.3},{"c":"C8","x":30,"y":2.0},{"c":"C8","x":35,"y":2.8},{"c":"C8","x":40,"y":3.35},{"c":"C8","x":45,"y":3.75},{"c":"C8","x":50,"y":4.05},{"c":"C8","x":60,"y":4.55},{"c":"C8","x":70,"y":4.92},{"c":"C8","x":80,"y":5.2},{"c":"C8","x":100,"y":5.52},{"c":"C8","x":120,"y":5.7},{"c":"C8","x":138,"y":5.78},
{"c":"C9","x":0,"y":0},{"c":"C9","x":10,"y":0.15},{"c":"C9","x":15,"y":0.4},{"c":"C9","x":20,"y":0.75},{"c":"C9","x":25,"y":1.25},{"c":"C9","x":30,"y":1.95},{"c":"C9","x":35,"y":2.75},{"c":"C9","x":40,"y":3.3},{"c":"C9","x":45,"y":3.72},{"c":"C9","x":50,"y":4.03},{"c":"C9","x":60,"y":4.55},{"c":"C9","x":70,"y":4.95},{"c":"C9","x":80,"y":5.25},{"c":"C9","x":100,"y":5.6},{"c":"C9","x":120,"y":5.8},{"c":"C9","x":138,"y":5.89},
{"c":"C10","x":0,"y":0},{"c":"C10","x":10,"y":0.14},{"c":"C10","x":15,"y":0.38},{"c":"C10","x":20,"y":0.72},{"c":"C10","x":25,"y":1.2},{"c":"C10","x":30,"y":1.85},{"c":"C10","x":35,"y":2.6},{"c":"C10","x":40,"y":3.15},{"c":"C10","x":45,"y":3.58},{"c":"C10","x":50,"y":3.92},{"c":"C10","x":60,"y":4.45},{"c":"C10","x":70,"y":4.88},{"c":"C10","x":80,"y":5.2},{"c":"C10","x":100,"y":5.65},{"c":"C10","x":120,"y":5.95},{"c":"C10","x":138,"y":6.15},
{"c":"C11","x":0,"y":0},{"c":"C11","x":10,"y":0.14},{"c":"C11","x":15,"y":0.39},{"c":"C11","x":20,"y":0.74},{"c":"C11","x":25,"y":1.25},{"c":"C11","x":30,"y":1.9},{"c":"C11","x":35,"y":2.65},{"c":"C11","x":40,"y":3.2},{"c":"C11","x":45,"y":3.63},{"c":"C11","x":50,"y":3.98},{"c":"C11","x":60,"y":4.55},{"c":"C11","x":70,"y":5.0},{"c":"C11","x":80,"y":5.35},{"c":"C11","x":100,"y":5.85},{"c":"C11","x":120,"y":6.17},{"c":"C11","x":138,"y":6.38}],
 "fLines": [
{"s":"R","x":20,"y":2.27},{"s":"R","x":21,"y":1.99},{"s":"R","x":22,"y":1.73},{"s":"R","x":23,"y":1.79},{"s":"R","x":24,"y":1.63},{"s":"R","x":25,"y":1.81},{"s":"R","x":26,"y":2.1},{"s":"R","x":27,"y":2.59},{"s":"R","x":28,"y":2.73},{"s":"R","x":29,"y":2.81},{"s":"R","x":30,"y":2.9},{"s":"R","x":31,"y":2.99},{"s":"R","x":32,"y":3.23},{"s":"R","x":33,"y":3.67},{"s":"R","x":34,"y":3.97},{"s":"R","x":35,"y":4.26},{"s":"R","x":36,"y":4.22},{"s":"R","x":37,"y":4.17},{"s":"R","x":38,"y":4.24},{"s":"R","x":39,"y":4.26},{"s":"R","x":40,"y":4.36},{"s":"R","x":41,"y":4.59},{"s":"R","x":42,"y":4.89},{"s":"R","x":43,"y":5.16},{"s":"R","x":44,"y":5.28},{"s":"R","x":45,"y":5.39},{"s":"R","x":46,"y":5.48},{"s":"R","x":47,"y":5.58},
{"s":"D","x":20,"y":1.38},{"s":"D","x":21,"y":1.19},{"s":"D","x":22,"y":1.04},{"s":"D","x":23,"y":1.12},{"s":"D","x":24,"y":0.98},{"s":"D","x":25,"y":1.1},{"s":"D","x":26,"y":1.25},{"s":"D","x":27,"y":1.55},{"s":"D","x":28,"y":1.64},{"s":"D","x":29,"y":1.71},{"s":"D","x":30,"y":1.79},{"s":"D","x":31,"y":1.82},{"s":"D","x":32,"y":1.96},{"s":"D","x":33,"y":2.29},{"s":"D","x":34,"y":2.51},{"s":"D","x":35,"y":2.72},{"s":"D","x":36,"y":2.71},{"s":"D","x":37,"y":2.69},{"s":"D","x":38,"y":2.75},{"s":"D","x":39,"y":2.77},{"s":"D","x":40,"y":2.83},{"s":"D","x":41,"y":3.0},{"s":"D","x":42,"y":3.19},{"s":"D","x":43,"y":3.36},{"s":"D","x":44,"y":3.45},{"s":"D","x":45,"y":3.5},{"s":"D","x":46,"y":3.55},{"s":"D","x":47,"y":3.62}],
 "fLabels": [{"t":"R","x":41.3,"y":5.31},{"t":"D","x":45.35,"y":3.0}]
},
"concat": [
 {
  "width": 462, "height": 350,
  "title": {"text": "(a) Infected", "orient": "bottom", "dx": -48, "offset": 11},
  "layer": [
   {"data": {"name": "aLines"}, "mark": {"type": "line", "interpolate": "monotone", "clip": true, "color": "#0000ff", "strokeWidth": 1.3},
    "encoding": {
     "x": {"field": "x", "type": "quantitative", "scale": {"domain": [0, 147], "nice": false}, "axis": {"values": [0, 50, 100], "title": "Days", "titleX": 236, "titleY": 66, "titleBaseline": "alphabetic", "titleAlign": "center"}},
     "y": {"field": "y", "type": "quantitative", "scale": {"domain": [0, 3.5], "nice": false}, "axis": {"values": [0, 0.5, 1, 1.5, 2, 2.5, 3, 3.5], "format": "~g", "title": "Infected, I"}},
     "detail": {"field": "c", "type": "nominal"}}},
   {"data": {"name": "aTrunk"}, "mark": {"type": "line", "interpolate": "monotone", "clip": true, "color": "#0000ff", "strokeWidth": 3.5},
    "encoding": {"x": {"field": "x", "type": "quantitative", "axis": null}, "y": {"field": "y", "type": "quantitative"}}},
   {"data": {"name": "aObs"}, "mark": {"type": "point", "filled": true, "color": "#000000", "opacity": 1, "size": 42, "clip": true},
    "encoding": {"x": {"field": "x", "type": "quantitative", "axis": null}, "y": {"field": "y", "type": "quantitative"}}},
   {"data": {"name": "one"}, "mark": {"type": "rule", "opacity": 0}, "encoding": {"x": {"datum": 0, "type": "quantitative", "axis": {"orient": "top", "values": [0, 50, 100], "labels": false, "title": null}}}},
   {"data": {"name": "one"}, "mark": {"type": "text", "align": "left", "baseline": "alphabetic", "dx": 2, "dy": -4, "fontSize": 23, "color": "#262626"}, "encoding": {"x": {"datum": 0, "type": "quantitative", "axis": null}, "y": {"datum": 3.5, "type": "quantitative"}, "text": {"value": "×10"}}},
   {"data": {"name": "one"}, "mark": {"type": "text", "align": "left", "baseline": "alphabetic", "dx": 42, "dy": -16, "fontSize": 16, "color": "#262626"}, "encoding": {"x": {"datum": 0, "type": "quantitative", "axis": null}, "y": {"datum": 3.5, "type": "quantitative"}, "text": {"value": "4"}}}
  ],
  "resolve": {"axis": {"x": "independent"}}
 },
 {
  "width": 464, "height": 348,
  "title": {"text": "(b) Recovered", "orient": "bottom", "dx": -48, "offset": 11},
  "layer": [
   {"data": {"name": "bLines"}, "mark": {"type": "line", "interpolate": "monotone", "clip": true, "color": "#00e600", "strokeWidth": 1.3},
    "encoding": {
     "x": {"field": "x", "type": "quantitative", "scale": {"domain": [0, 147], "nice": false}, "axis": {"values": [0, 50, 100], "title": "Days", "titleX": 238, "titleY": 66, "titleBaseline": "alphabetic", "titleAlign": "center"}},
     "y": {"field": "y", "type": "quantitative", "scale": {"domain": [0, 6], "nice": false}, "axis": {"values": [0, 1, 2, 3, 4, 5, 6], "format": "~g", "title": "Recovered,R"}},
     "detail": {"field": "c", "type": "nominal"}}},
   {"data": {"name": "bTrunk"}, "mark": {"type": "line", "interpolate": "monotone", "clip": true, "color": "#00e600", "strokeWidth": 1.6},
    "encoding": {"x": {"field": "x", "type": "quantitative", "axis": null}, "y": {"field": "y", "type": "quantitative"}}},
   {"data": {"name": "bObs"}, "mark": {"type": "point", "filled": true, "color": "#000000", "opacity": 1, "size": 42, "clip": true},
    "encoding": {"x": {"field": "x", "type": "quantitative", "axis": null}, "y": {"field": "y", "type": "quantitative"}}},
   {"data": {"name": "one"}, "mark": {"type": "rule", "opacity": 0}, "encoding": {"x": {"datum": 0, "type": "quantitative", "axis": {"orient": "top", "values": [0, 50, 100], "labels": false, "title": null}}}},
   {"data": {"name": "one"}, "mark": {"type": "text", "align": "left", "baseline": "alphabetic", "dx": 2, "dy": -4, "fontSize": 23, "color": "#262626"}, "encoding": {"x": {"datum": 0, "type": "quantitative", "axis": null}, "y": {"datum": 6, "type": "quantitative"}, "text": {"value": "×10"}}},
   {"data": {"name": "one"}, "mark": {"type": "text", "align": "left", "baseline": "alphabetic", "dx": 42, "dy": -16, "fontSize": 16, "color": "#262626"}, "encoding": {"x": {"datum": 0, "type": "quantitative", "axis": null}, "y": {"datum": 6, "type": "quantitative"}, "text": {"value": "4"}}}
  ],
  "resolve": {"axis": {"x": "independent"}}
 },
 {
  "width": 463, "height": 353,
  "title": {"text": "(c) Dead individuals", "orient": "bottom", "dx": -48, "offset": 11},
  "layer": [
   {"data": {"name": "cLines"}, "mark": {"type": "line", "interpolate": "monotone", "clip": true, "color": "#ff0000", "strokeWidth": 1.3},
    "encoding": {
     "x": {"field": "x", "type": "quantitative", "scale": {"domain": [0, 144], "nice": false}, "axis": {"values": [0, 50, 100], "title": "Days", "titleX": 241, "titleY": 66, "titleBaseline": "alphabetic", "titleAlign": "center"}},
     "y": {"field": "y", "type": "quantitative", "scale": {"domain": [0, 4], "nice": false}, "axis": {"values": [0, 1, 2, 3, 4], "format": "~g", "title": "Deaths, D"}},
     "detail": {"field": "c", "type": "nominal"}}},
   {"data": {"name": "cTrunk"}, "mark": {"type": "line", "interpolate": "monotone", "clip": true, "color": "#ff0000", "strokeWidth": 1.8},
    "encoding": {"x": {"field": "x", "type": "quantitative", "axis": null}, "y": {"field": "y", "type": "quantitative"}}},
   {"data": {"name": "cObs"}, "mark": {"type": "point", "filled": true, "color": "#000000", "opacity": 1, "size": 42, "clip": true},
    "encoding": {"x": {"field": "x", "type": "quantitative", "axis": null}, "y": {"field": "y", "type": "quantitative"}}},
   {"data": {"name": "one"}, "mark": {"type": "rule", "opacity": 0}, "encoding": {"x": {"datum": 0, "type": "quantitative", "axis": {"orient": "top", "values": [0, 50, 100], "labels": false, "title": null}}}},
   {"data": {"name": "one"}, "mark": {"type": "text", "align": "left", "baseline": "alphabetic", "dx": 2, "dy": -4, "fontSize": 23, "color": "#262626"}, "encoding": {"x": {"datum": 0, "type": "quantitative", "axis": null}, "y": {"datum": 4, "type": "quantitative"}, "text": {"value": "×10"}}},
   {"data": {"name": "one"}, "mark": {"type": "text", "align": "left", "baseline": "alphabetic", "dx": 42, "dy": -16, "fontSize": 16, "color": "#262626"}, "encoding": {"x": {"datum": 0, "type": "quantitative", "axis": null}, "y": {"datum": 4, "type": "quantitative"}, "text": {"value": "4"}}}
  ],
  "resolve": {"axis": {"x": "independent"}}
 },
 {
  "width": 462, "height": 355,
  "title": {"text": "(d) Asymptomatic", "orient": "bottom", "dx": -48, "offset": 11},
  "layer": [
   {"data": {"name": "dLines"}, "mark": {"type": "line", "interpolate": "monotone", "clip": true, "color": "#000000", "strokeWidth": 1.6},
    "encoding": {
     "x": {"field": "x", "type": "quantitative", "scale": {"domain": [0, 142.6], "nice": false}, "axis": {"values": [0, 50, 100], "title": "Days", "titleX": 244, "titleY": 66, "titleBaseline": "alphabetic", "titleAlign": "center"}},
     "y": {"field": "y", "type": "quantitative", "scale": {"domain": [0, 5], "nice": false}, "axis": {"values": [0, 1, 2, 3, 4, 5], "format": "~g", "title": "Asymptomatic, A"}},
     "detail": {"field": "c", "type": "nominal"}}},
   {"data": {"name": "one"}, "mark": {"type": "rule", "opacity": 0}, "encoding": {"x": {"datum": 0, "type": "quantitative", "axis": {"orient": "top", "values": [0, 50, 100], "labels": false, "title": null}}}},
   {"data": {"name": "one"}, "mark": {"type": "text", "align": "left", "baseline": "alphabetic", "dx": 2, "dy": -4, "fontSize": 23, "color": "#262626"}, "encoding": {"x": {"datum": 0, "type": "quantitative", "axis": null}, "y": {"datum": 5, "type": "quantitative"}, "text": {"value": "×10"}}},
   {"data": {"name": "one"}, "mark": {"type": "text", "align": "left", "baseline": "alphabetic", "dx": 42, "dy": -16, "fontSize": 16, "color": "#262626"}, "encoding": {"x": {"datum": 0, "type": "quantitative", "axis": null}, "y": {"datum": 5, "type": "quantitative"}, "text": {"value": "6"}}}
  ],
  "resolve": {"axis": {"x": "independent"}}
 },
 {
  "width": 460, "height": 369,
  "title": {"text": "(e) Unregistered recovered", "orient": "bottom", "dx": -47, "offset": 11},
  "layer": [
   {"data": {"name": "eLines"}, "mark": {"type": "line", "interpolate": "monotone", "clip": true, "color": "#000000", "strokeWidth": 1.6},
    "encoding": {
     "x": {"field": "x", "type": "quantitative", "scale": {"domain": [0, 137.7], "nice": false}, "axis": {"values": [0, 50, 100], "title": "Days", "titleX": 253, "titleY": 66, "titleBaseline": "alphabetic", "titleAlign": "center"}},
     "y": {"field": "y", "type": "quantitative", "scale": {"domain": [0, 12], "nice": false}, "axis": {"values": [0, 2, 4, 6, 8, 10, 12], "format": "~g", "title": "Unregistered recovered, U"}},
     "detail": {"field": "c", "type": "nominal"}}},
   {"data": {"name": "eTrunk"}, "mark": {"type": "line", "interpolate": "monotone", "clip": true, "color": "#000000", "strokeWidth": 3},
    "encoding": {"x": {"field": "x", "type": "quantitative", "axis": null}, "y": {"field": "y", "type": "quantitative"}}},
   {"data": {"name": "one"}, "mark": {"type": "rule", "opacity": 0}, "encoding": {"x": {"datum": 0, "type": "quantitative", "axis": {"orient": "top", "values": [0, 50, 100], "labels": false, "title": null}}}},
   {"data": {"name": "one"}, "mark": {"type": "text", "align": "left", "baseline": "alphabetic", "dx": 2, "dy": -4, "fontSize": 23, "color": "#262626"}, "encoding": {"x": {"datum": 0, "type": "quantitative", "axis": null}, "y": {"datum": 12, "type": "quantitative"}, "text": {"value": "×10"}}},
   {"data": {"name": "one"}, "mark": {"type": "text", "align": "left", "baseline": "alphabetic", "dx": 42, "dy": -16, "fontSize": 16, "color": "#262626"}, "encoding": {"x": {"datum": 0, "type": "quantitative", "axis": null}, "y": {"datum": 12, "type": "quantitative"}, "text": {"value": "6"}}}
  ],
  "resolve": {"axis": {"x": "independent"}}
 },
 {
  "width": 459, "height": 373,
  "title": {"text": ["(f) Predictions of dead and recovered", "individuals at the end of epidemics"], "orient": "bottom", "dx": -47, "offset": 11},
  "layer": [
   {"data": {"name": "fLines"}, "mark": {"type": "line", "clip": true, "strokeWidth": 3},
    "encoding": {
     "x": {"field": "x", "type": "quantitative", "scale": {"domain": [20, 46.7], "nice": false, "zero": false}, "axis": {"values": [20, 25, 30, 35, 40, 45], "title": "Day @ prediction", "titleX": 254, "titleY": 66, "titleBaseline": "alphabetic", "titleAlign": "center"}},
     "y": {"field": "y", "type": "quantitative", "scale": {"domain": [0, 6], "nice": false}, "axis": {"values": [0, 1, 2, 3, 4, 5, 6], "format": "~g", "title": "#R, #D @ end of epidemics"}},
     "color": {"field": "s", "type": "nominal", "scale": {"domain": ["R", "D"], "range": ["#66d11e", "#ff0000"]}, "legend": null}}},
   {"data": {"name": "fLabels"}, "mark": {"type": "text", "align": "center", "baseline": "middle", "fontSize": 40, "font": "Liberation Sans"},
    "encoding": {"x": {"field": "x", "type": "quantitative", "axis": null}, "y": {"field": "y", "type": "quantitative"}, "text": {"field": "t"},
     "color": {"field": "t", "type": "nominal", "scale": {"domain": ["R", "D"], "range": ["#77ac30", "#ff0000"]}, "legend": null}}},
   {"data": {"name": "one"}, "mark": {"type": "rule", "opacity": 0}, "encoding": {"x": {"datum": 20, "type": "quantitative", "axis": {"orient": "top", "values": [20, 25, 30, 35, 40, 45], "labels": false, "title": null}}}},
   {"data": {"name": "one"}, "mark": {"type": "text", "align": "left", "baseline": "alphabetic", "dx": 2, "dy": -4, "fontSize": 23, "color": "#262626"}, "encoding": {"x": {"datum": 20, "type": "quantitative", "axis": null}, "y": {"datum": 6, "type": "quantitative"}, "text": {"value": "×10"}}},
   {"data": {"name": "one"}, "mark": {"type": "text", "align": "left", "baseline": "alphabetic", "dx": 42, "dy": -16, "fontSize": 16, "color": "#262626"}, "encoding": {"x": {"datum": 20, "type": "quantitative", "axis": null}, "y": {"datum": 6, "type": "quantitative"}, "text": {"value": "4"}}}
  ],
  "resolve": {"axis": {"x": "independent"}, "scale": {"color": "independent"}}
 }
]
}
